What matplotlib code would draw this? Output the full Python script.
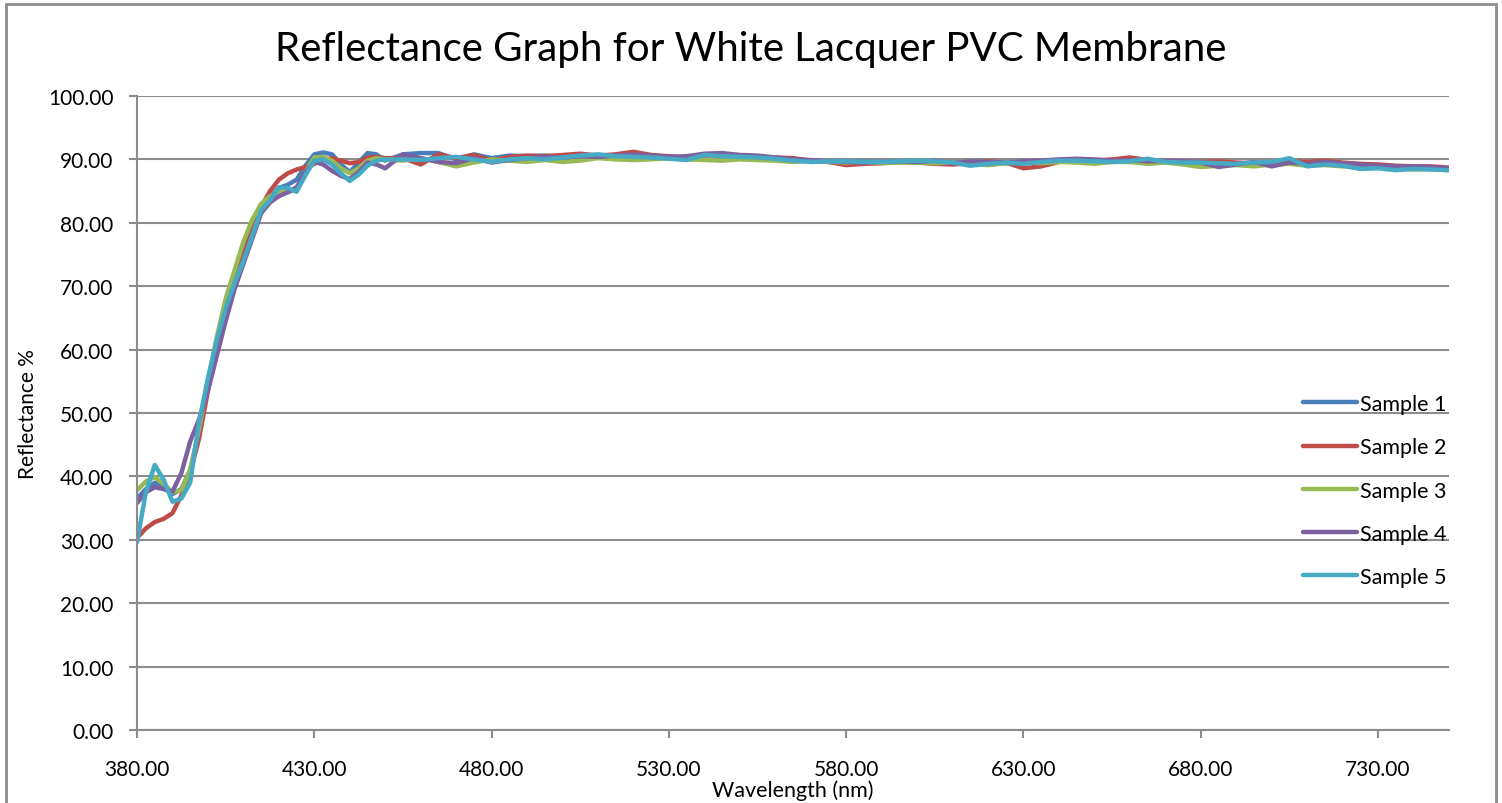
import matplotlib
matplotlib.use('Agg')
import matplotlib.pyplot as plt
from matplotlib.patches import Rectangle
import numpy as np

# wavelength grid: fine steps on the steep rise, 5 nm on the plateau
wl_rise = [380, 382.5, 385, 387.5, 390, 392.5, 395, 397.5, 400, 402.5, 405, 407.5,
           410, 412.5, 415, 417.5, 420, 422.5, 425, 427.5, 430, 432.5, 435, 437.5,
           440, 442.5, 445, 447.5, 450]
wl_flat = list(range(455, 755, 5))
wavelength = wl_rise + wl_flat

sample1 = [36.5, 38.0, 39.0, 38.2, 37.2, 38.0, 41.0, 47.0, 54.0, 60.5, 66.0, 70.5,
           74.5, 78.5, 82.0, 84.0, 85.5, 86.0, 86.8, 89.0, 90.8, 91.1, 90.8, 89.2,
           88.0, 89.5, 91.0, 90.8, 89.8,
           90.8, 91.0, 91.0, 90.0, 90.8, 90.2, 90.6, 90.5, 90.6, 90.4, 90.5, 90.6,
           90.4, 90.5, 90.4, 90.2, 90.4, 90.8, 90.6, 90.4, 90.2, 90.0, 89.8, 89.8,
           89.7, 89.6, 89.7, 89.5, 89.6, 89.7, 89.5, 89.6, 89.3, 89.2, 89.4, 89.4,
           89.6, 89.8, 89.9, 89.8, 89.7, 89.6, 89.8, 89.7, 89.6, 89.6, 89.4, 89.2,
           89.4, 89.5, 89.6, 89.3, 89.4, 89.3, 89.0, 88.9, 88.6, 88.7, 88.5, 88.4]

sample2 = [30.3, 31.8, 32.8, 33.3, 34.2, 37.0, 40.5, 46.0, 53.5, 60.5, 66.0, 71.0,
           75.5, 79.5, 82.5, 85.0, 86.8, 87.8, 88.4, 88.8, 89.3, 89.9, 90.2, 89.8,
           89.4, 89.6, 90.3, 90.4, 90.2,
           90.2, 89.2, 90.8, 90.2, 90.7, 89.8, 90.4, 90.6, 90.5, 90.7, 90.9, 90.6,
           90.8, 91.2, 90.7, 90.5, 90.3, 90.6, 90.7, 90.5, 90.4, 90.3, 90.2, 89.8,
           89.6, 89.1, 89.3, 89.4, 89.6, 89.5, 89.3, 89.2, 89.4, 89.7, 89.5, 88.6,
           88.9, 89.6, 89.8, 89.8, 90.0, 90.3, 89.9, 89.7, 89.6, 89.6, 89.7, 89.5,
           89.4, 89.6, 89.8, 89.6, 89.8, 89.5, 89.3, 89.2, 89.0, 88.9, 88.9, 88.7]

sample3 = [37.8, 39.2, 39.9, 38.8, 37.5, 37.8, 41.0, 47.5, 55.0, 62.0, 68.0, 72.5,
           77.0, 80.5, 83.0, 84.2, 84.8, 84.9, 85.2, 88.0, 90.3, 90.4, 89.8, 88.6,
           87.8, 88.6, 89.8, 90.2, 90.0,
           89.8, 90.2, 89.6, 88.9, 89.5, 90.0, 89.8, 89.6, 89.9, 89.6, 89.8, 90.2,
           90.0, 89.9, 90.0, 90.2, 90.0, 89.9, 89.8, 90.0, 89.9, 89.8, 89.6, 89.8,
           89.6, 89.5, 89.6, 89.4, 89.5, 89.5, 89.4, 89.5, 89.3, 89.1, 89.4, 89.6,
           89.4, 89.6, 89.5, 89.3, 89.6, 89.6, 89.3, 89.5, 89.2, 88.8, 89.0, 89.1,
           88.9, 89.2, 89.3, 89.0, 89.1, 88.9, 88.9, 88.7, 88.6, 88.4, 88.5, 88.3]

sample4 = [35.8, 37.5, 38.3, 38.0, 37.6, 40.5, 45.5, 49.0, 53.5, 59.0, 64.5, 69.5,
           73.5, 77.5, 81.5, 83.2, 84.2, 84.8, 85.6, 88.0, 89.6, 89.2, 88.2, 87.4,
           86.9, 88.0, 89.5, 89.2, 88.6,
           90.8, 90.2, 89.6, 89.4, 90.2, 89.5, 89.9, 90.2, 90.4, 90.3, 90.5, 90.4,
           90.6, 90.8, 90.6, 90.4, 90.5, 90.9, 91.0, 90.7, 90.6, 90.3, 90.0, 89.9,
           89.7, 89.6, 89.5, 89.6, 89.7, 89.6, 89.8, 89.4, 89.7, 89.6, 89.5, 89.7,
           89.8, 90.0, 90.1, 90.0, 89.8, 89.9, 89.7, 89.8, 89.7, 89.5, 88.8, 89.2,
           89.6, 88.9, 89.5, 89.3, 89.6, 89.4, 89.2, 89.0, 88.9, 88.9, 88.8, 88.6]

sample5 = [29.6, 37.5, 41.8, 39.5, 36.0, 36.5, 39.0, 48.5, 55.5, 61.5, 66.5, 70.5,
           74.0, 78.0, 82.0, 83.6, 85.6, 85.5, 84.9, 87.5, 89.8, 90.0, 89.2, 87.8,
           86.6, 87.6, 89.0, 89.8, 90.0,
           90.0, 89.9, 90.2, 90.4, 90.0, 89.6, 90.0, 90.2, 90.0, 90.3, 90.6, 90.8,
           90.5, 90.4, 90.3, 90.1, 89.9, 90.7, 90.5, 90.4, 90.3, 90.1, 89.8, 89.6,
           89.7, 89.7, 89.6, 89.6, 89.7, 89.8, 89.7, 89.5, 89.0, 89.3, 89.5, 89.3,
           89.6, 89.8, 89.8, 89.7, 89.6, 89.7, 90.1, 89.6, 89.5, 89.5, 89.4, 89.3,
           89.5, 89.6, 90.2, 88.9, 89.2, 89.0, 88.5, 88.6, 88.3, 88.5, 88.4, 88.3]

labels = ['Sample 1', 'Sample 2', 'Sample 3', 'Sample 4', 'Sample 5']
colors = ['#4A7EBB', '#BE4B48', '#98B954', '#7D60A0', '#46AAC5']
x_ticks = [380, 430, 480, 530, 580, 630, 680, 730]
y_ticks = [0, 10, 20, 30, 40, 50, 60, 70, 80, 90, 100]

plt.rcParams['font.family'] = ['Lato', 'DejaVu Sans']

W, H = 1502, 804
fig = plt.figure(figsize=(W / 100, H / 100), dpi=100)
ax = fig.add_axes([137 / W, 1 - 731 / H, (1449 - 137) / W, (731 - 97) / H])

for vals, lab, col in zip([sample1, sample2, sample3, sample4, sample5], labels, colors):
    ax.plot(wavelength, vals, color=col, lw=3.2, label=lab, solid_capstyle='round')

ax.set_xlim(380, 750)
ax.set_ylim(0, 100)
ax.set_xticks(x_ticks)
ax.set_xticklabels([f'{v:.2f}' for v in x_ticks])
ax.set_yticks(y_ticks)
ax.set_yticklabels([f'{v:.2f}' for v in y_ticks])

ax.grid(axis='y', color='#8c8c8c', lw=1.5)
ax.set_axisbelow(True)
for s in ['top', 'right']:
    ax.spines[s].set_visible(False)
for s in ['left', 'bottom']:
    ax.spines[s].set_color('#8c8c8c')
    ax.spines[s].set_linewidth(1.5)
ax.tick_params(direction='out', length=6, width=1.5, color='#8c8c8c', labelsize=15)
ax.tick_params(axis='y', pad=11)
ax.tick_params(axis='x', pad=15)

ax.set_xlabel('Wavelength (nm)', fontsize=15.5, labelpad=0)
ax.set_ylabel('Reflectance %', fontsize=15, labelpad=7)
fig.text(0.5, 1 - 50 / H, 'Reflectance Graph for White Lacquer PVC Membrane',
         fontsize=29, ha='center', va='center')

leg = ax.legend(loc='upper left', bbox_to_anchor=(1303 / W, 1 - 395 / H),
                bbox_transform=fig.transFigure, frameon=False, fontsize=15.5,
                handlelength=2.5, handletextpad=0.15, labelspacing=1.08,
                borderpad=0, borderaxespad=0)

# outer chart frame
fig.patches.append(Rectangle((6 / W, -0.05), 1490 / W, 1.05 - 5 / H,
                             transform=fig.transFigure, fill=False,
                             edgecolor='#8c8c8c', lw=2))

fig.savefig('out.png', dpi=100)
